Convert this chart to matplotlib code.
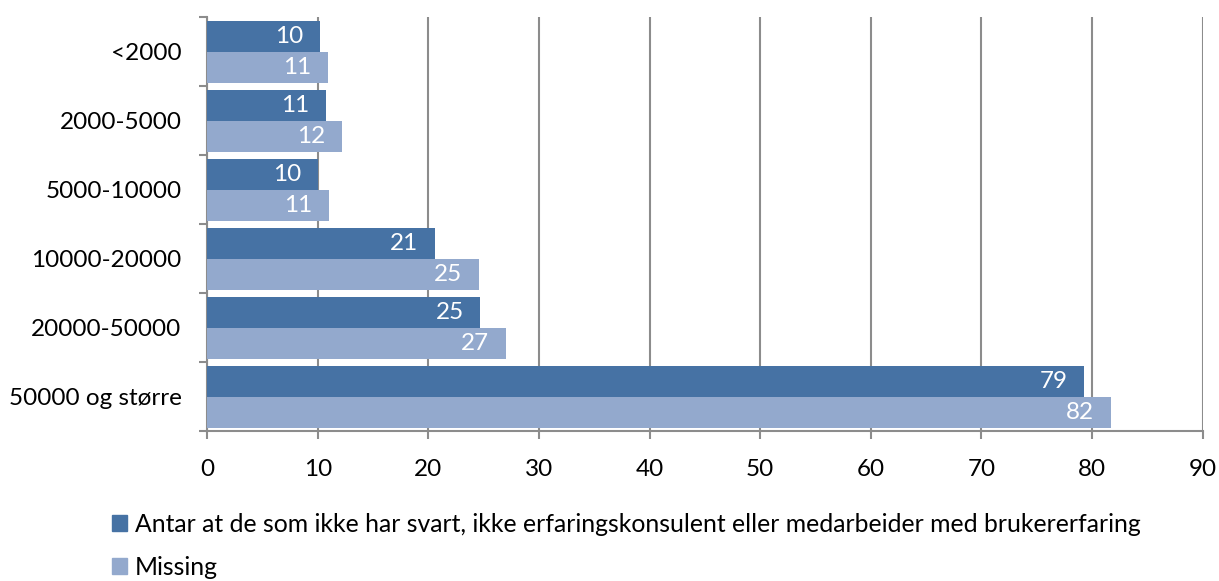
import matplotlib.pyplot as plt
import numpy as np
from matplotlib.patches import Patch

plt.rcParams['font.family'] = ['Lato', 'DejaVu Sans']

categories = ["<2000", "2000-5000", "5000-10000", "10000-20000", "20000-50000", "50000 og større"]
antar = [10.2, 10.7, 10.0, 20.6, 24.7, 79.3]
missing = [10.9, 12.2, 11.0, 24.6, 27.0, 81.7]
series_names = ["Antar at de som ikke har svart, ikke erfaringskonsulent eller medarbeider med brukererfaring",
                "Missing"]
dark = "#4672A4"
light = "#93A9CD"
grid_col = "#8C8C8C"
fs = 17.5

fig = plt.figure(figsize=(12.19, 5.81), dpi=100)
ax = fig.add_axes([0.170, 0.258, 0.8165, 0.7125])

y = np.arange(len(categories))
h = 0.45
ax.barh(y - h / 2, antar, height=h, color=dark, zorder=3)
ax.barh(y + h / 2, missing, height=h, color=light, zorder=3)

for vals, off in [(antar, -h / 2), (missing, h / 2)]:
    for yi, v in zip(y, vals):
        ax.annotate(f"{round(v):.0f}", xy=(v, yi + off), xytext=(-12, 0),
                    textcoords="offset points", ha="right", va="center",
                    color="white", fontsize=fs, zorder=4)

ax.set_xlim(0, 90)
ax.set_xticks(np.arange(0, 91, 10))
ax.set_ylim(len(categories) - 0.5, -0.5)
ax.set_yticks(y)
ax.set_yticklabels(categories)
ax.set_yticks(np.arange(-0.5, len(categories), 1), minor=True)
ax.tick_params(axis="y", which="major", length=0, pad=18.5, labelsize=fs)
ax.tick_params(axis="y", which="minor", length=6, width=1.5, color=grid_col)
ax.tick_params(axis="x", length=6, width=1.5, color=grid_col, labelsize=fs, pad=14)

ax.grid(axis="x", color=grid_col, linewidth=1.5, zorder=0)
for s in ["top", "right"]:
    ax.spines[s].set_visible(False)
for s in ["left", "bottom"]:
    ax.spines[s].set_color(grid_col)
    ax.spines[s].set_linewidth(1.5)

handles = [Patch(color=dark), Patch(color=light)]
fig.legend(handles, series_names, loc="upper left", bbox_to_anchor=(0.084, 0.134),
           frameon=False, fontsize=17.8, handlelength=0.6, handleheight=0.6,
           handletextpad=0.3, labelspacing=0.8, borderaxespad=0)

fig.savefig("out.png", dpi=100)
